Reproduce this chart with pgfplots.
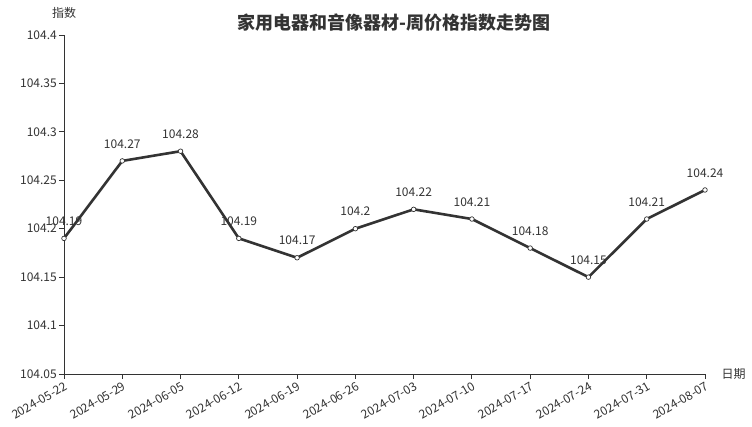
\documentclass[border=0pt]{standalone}
\usepackage{fontspec}
\setmainfont{Noto Sans CJK SC}
\usepackage{pgfplots}
\pgfplotsset{compat=1.18}
\usetikzlibrary{calc}
\definecolor{ink}{HTML}{333333}
\begin{document}
\begin{tikzpicture}[x=1pt,y=1pt]
\begin{axis}[
 scale only axis,
 width=641pt, height=339pt,
 xmin=0, xmax=11,
 ymin=104.05, ymax=104.4,
 ytick={104.05,104.1,104.15,104.2,104.25,104.3,104.35,104.4},
 yticklabels={104.05,104.1,104.15,104.2,104.25,104.3,104.35,104.4},
 xtick={0,...,11},
 xticklabels={2024-05-22,2024-05-29,2024-06-05,2024-06-12,2024-06-19,2024-06-26,2024-07-03,2024-07-10,2024-07-17,2024-07-24,2024-07-31,2024-08-07},
 x tick label style={rotate=30, anchor=north east, inner sep=1pt, yshift=-1pt},
 y tick label style={inner sep=2pt},
 tick label style={font=\fontsize{12}{14}\selectfont, text=ink},
 axis x line*=bottom, axis y line*=left,
 axis line style={ink, line width=0.9pt},
 tick style={ink, line width=0.9pt},
 tick align=outside, major tick length=5pt,
 clip=false,
 nodes near coords,
 point meta=explicit symbolic,
 every node near coord/.style={font=\fontsize{12}{14}\selectfont, text=ink, yshift=9pt},
]
\addplot[ink, line width=2.6pt, mark=*, mark size=2.3pt,
 mark options={fill=white, draw=ink, line width=0.7pt}] table[meta=lab] {
x y lab
0 104.19 104.19
1 104.27 104.27
2 104.28 104.28
3 104.19 104.19
4 104.17 104.17
5 104.2 104.2
6 104.22 104.22
7 104.21 104.21
8 104.18 104.18
9 104.15 104.15
10 104.21 104.21
11 104.24 104.24
};
\coordinate (sw) at (rel axis cs:0,0);
\coordinate (ne) at (rel axis cs:1,1);
\end{axis}
\node[font=\bfseries\fontsize{18}{21}\selectfont, text=ink] at ($(sw|-ne)+(330pt,12pt)$) {家用电器和音像器材-周价格指数走势图};
\node[font=\fontsize{12}{14}\selectfont, text=ink] at ($(sw|-ne)+(0pt,22pt)$) {指数};
\node[font=\fontsize{12}{14}\selectfont, text=ink, anchor=west] at ($(ne|-sw)+(13pt,0pt)$) {日期};
\pgfresetboundingbox
\path ($(sw)+(-64pt,-53pt)$) rectangle ($(ne)+(47pt,35pt)$);
\end{tikzpicture}
\end{document}
